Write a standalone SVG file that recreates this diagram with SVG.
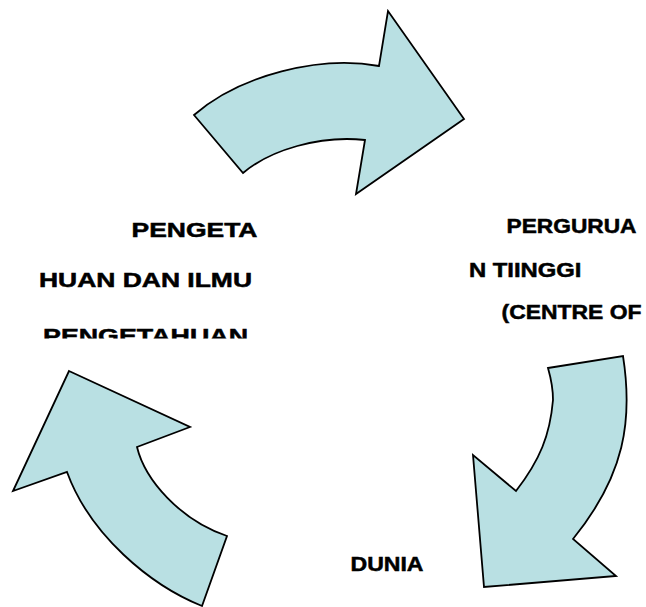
<svg xmlns="http://www.w3.org/2000/svg" width="646" height="607" viewBox="0 0 646 607">
  <defs>
    <clipPath id="clipLast">
      <rect x="0" y="300" width="300" height="38.5"/>
    </clipPath>
  </defs>
  <style>
    .arrow { fill: #B9E0E3; stroke: #000000; stroke-width: 1.8; stroke-linejoin: miter; }
    .lbl { font-family: "Liberation Sans", Arial, sans-serif; font-weight: bold; font-size: 20px; fill: #000000; stroke: #000000; stroke-width: 0.5; }
  </style>
  <rect width="646" height="607" fill="#ffffff"/>
  <g id="connectors">
    <path id="arrow-top" class="arrow" d="M194,115 L243,173 C270,150 320,135 365,140 L356,194 L464,119 L388,11 L379,66 C320,55 240,75 194,115 Z"/>
    <path id="arrow-right" class="arrow" d="M548,368 L623,356 C633,420 625,475 573,539 L616,576 L484,587 L473,455 L516,491 C540,460 550,435 553,400 C553,385 550,375 548,368 Z"/>
    <path id="arrow-left" class="arrow" d="M69,371 L190,427 L137,447 C145,480 180,520 227,536 L202,606 C150,585 90,535 67,472 L13,491 Z"/>
  </g>
  <g id="node-pengetahuan">
    <text class="lbl" x="131.5" y="236.5" textLength="126" lengthAdjust="spacingAndGlyphs">PENGETA</text>
    <text class="lbl" x="39" y="286.5" textLength="213" lengthAdjust="spacingAndGlyphs">HUAN DAN ILMU</text>
    <text class="lbl" x="43" y="343" textLength="205" lengthAdjust="spacingAndGlyphs" clip-path="url(#clipLast)">PENGETAHUAN</text>
  </g>
  <g id="node-perguruan">
    <text class="lbl" x="506.5" y="232.5" textLength="130" lengthAdjust="spacingAndGlyphs">PERGURUA</text>
    <text class="lbl" x="469" y="276.5" textLength="112.5" lengthAdjust="spacingAndGlyphs">N TIINGGI</text>
    <text class="lbl" x="501.5" y="319" textLength="140" lengthAdjust="spacingAndGlyphs">(CENTRE OF</text>
  </g>
  <g id="node-dunia">
    <text class="lbl" x="350.5" y="570.5" textLength="73" lengthAdjust="spacingAndGlyphs">DUNIA</text>
  </g>
</svg>
